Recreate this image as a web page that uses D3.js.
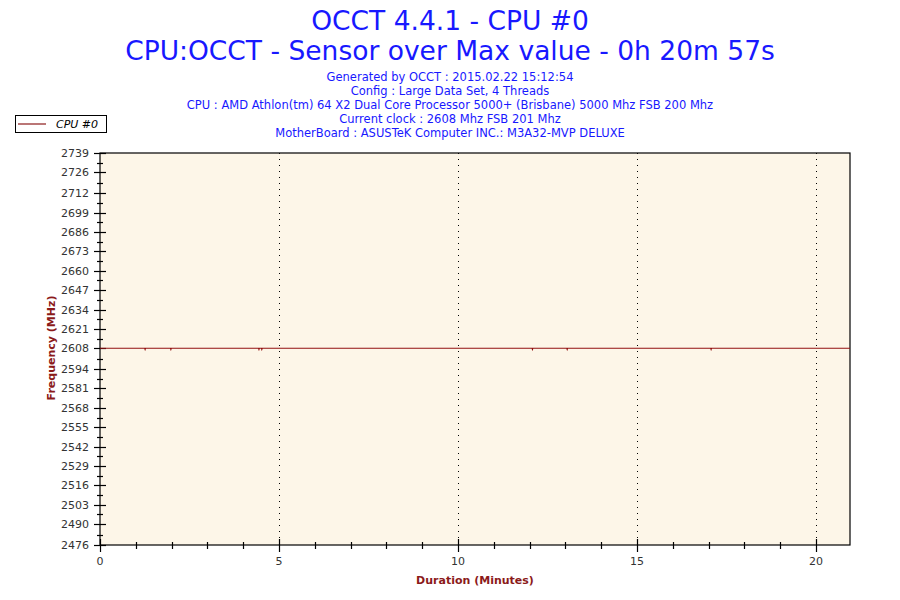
<!DOCTYPE html>
<html><head><meta charset="utf-8">
<script src="https://cdn.jsdelivr.net/npm/d3@7"></script>
<style>body{margin:0;background:#fff}svg{display:block}</style>
</head><body><svg id="c" width="900" height="600"></svg>
<script>
const titleLines = ["OCCT 4.4.1 - CPU #0", "CPU:OCCT - Sensor over Max value - 0h 20m 57s"];
const infoLines = [
  "Generated by OCCT : 2015.02.22 15:12:54",
  "Config : Large Data Set, 4 Threads",
  "CPU : AMD Athlon(tm) 64 X2 Dual Core Processor 5000+ (Brisbane) 5000 Mhz FSB 200 Mhz",
  "Current clock : 2608 Mhz FSB 201 Mhz",
  "MotherBoard : ASUSTeK Computer INC.: M3A32-MVP DELUXE"
];
const seriesName = "CPU #0";
const yTickLabels = [2476,2490,2503,2516,2529,2542,2555,2568,2581,2594,2608,2621,2634,2647,2660,2673,2686,2699,2712,2726,2739];
const xTickLabels = [0,5,10,15,20];
const durationMin = 20.95;
// time (minutes) and frequency (MHz) samples
const times  = [0, 1.25, 1.26, 1.27, 1.97, 1.98, 1.99, 4.43, 4.44, 4.45, 4.51, 4.52, 4.53, 12.07, 12.08, 12.09, 13.04, 13.05, 13.06, 17.06, 17.07, 17.08, 20.95];
const freqs  = [2608, 2608, 2607.3, 2608, 2608, 2607.3, 2608, 2608, 2607.3, 2608, 2608, 2607.3, 2608, 2608, 2607.3, 2608, 2608, 2607.3, 2608, 2608, 2607.3, 2608, 2608];

const svg = d3.select("#c");
const L = 100, R = 850, T = 153, B = 545;
const x = d3.scaleLinear().domain([0, durationMin]).range([L, R]);
const y = d3.scaleLinear().domain([yTickLabels[0], yTickLabels[yTickLabels.length-1]]).range([B, T]);
const font = "Tahoma, 'DejaVu Sans', Verdana, sans-serif";

// titles
svg.selectAll("text.title").data(titleLines).enter().append("text")
  .attr("x", 450).attr("y", (d,i) => 30 + i*30)
  .attr("text-anchor","middle").attr("font-family", font).attr("font-size", 26.5)
  .attr("fill", "#1818ff").text(d => d);
svg.selectAll("text.info").data(infoLines).enter().append("text")
  .attr("x", 450).attr("y", (d,i) => 81 + i*14)
  .attr("text-anchor","middle").attr("font-family", font).attr("font-size", 11.5)
  .attr("fill", "#1818ff").text(d => d);

// plot background
svg.append("rect").attr("x", L).attr("y", T).attr("width", R-L).attr("height", B-T)
  .attr("fill", "#fdf6e8").attr("stroke", "#000").attr("stroke-width", 1.2);

// dotted verticals
svg.selectAll("line.grid").data(xTickLabels.filter(d => d > 0)).enter().append("line")
  .attr("x1", d => Math.round(x(d))+0.5).attr("x2", d => Math.round(x(d))+0.5)
  .attr("y1", T).attr("y2", B)
  .attr("stroke", "#000").attr("stroke-dasharray", "1,5");

// y axis
const ga = svg.append("g");
const yMinor = d3.range(yTickLabels.length-1).map(i => (yTickLabels[i]+yTickLabels[i+1])/2);
ga.selectAll("line.ymaj").data(yTickLabels).enter().append("line")
  .attr("x1", 94).attr("x2", 106).attr("y1", d => Math.round(y(d))+0.5).attr("y2", d => Math.round(y(d))+0.5)
  .attr("stroke","#000").attr("stroke-width",1.2);
ga.selectAll("line.ymin").data(yMinor).enter().append("line")
  .attr("x1", 97).attr("x2", 103).attr("y1", d => Math.round(y(d))+0.5).attr("y2", d => Math.round(y(d))+0.5)
  .attr("stroke","#000").attr("stroke-width",1.2);
ga.selectAll("text.yl").data(yTickLabels).enter().append("text")
  .attr("x", 89).attr("y", d => y(d)+4).attr("text-anchor","end")
  .attr("font-family", font).attr("font-size", 11).attr("fill","#333").text(d => d);

// x axis
const xMinor = d3.range(1, 21).filter(d => d % 5 !== 0);
ga.selectAll("line.xmaj").data(xTickLabels).enter().append("line")
  .attr("x1", d => Math.round(x(d))+0.5).attr("x2", d => Math.round(x(d))+0.5).attr("y1", 539).attr("y2", 552)
  .attr("stroke","#000").attr("stroke-width",1.2);
ga.selectAll("line.xmin").data(xMinor).enter().append("line")
  .attr("x1", d => Math.round(x(d))+0.5).attr("x2", d => Math.round(x(d))+0.5).attr("y1", 542).attr("y2", 549)
  .attr("stroke","#000").attr("stroke-width",1.2);
ga.selectAll("text.xl").data(xTickLabels).enter().append("text")
  .attr("x", d => x(d)).attr("y", 565).attr("text-anchor","middle")
  .attr("font-family", font).attr("font-size", 11).attr("fill","#333").text(d => d);

// axis titles
svg.append("text").attr("transform","translate(55,348) rotate(-90)").attr("text-anchor","middle")
  .attr("font-family", font).attr("font-size", 11).attr("font-weight","bold").attr("fill","#8b1a1a")
  .text("Frequency (MHz)");
svg.append("text").attr("x", 475).attr("y", 584).attr("text-anchor","middle")
  .attr("font-family", font).attr("font-size", 11).attr("font-weight","bold").attr("fill","#8b1a1a")
  .text("Duration (Minutes)");

// series line
const pts = times.map((t,i) => [t, freqs[i]]);
svg.append("path").datum(pts)
  .attr("d", d3.line().x(d => x(d[0])).y(d => y(d[1])))
  .attr("fill","none").attr("stroke","#921010").attr("stroke-width",1.2);

// legend
svg.append("rect").attr("x", 15.5).attr("y", 115.5).attr("width", 91).attr("height", 17)
  .attr("fill","#fff").attr("stroke","#000");
svg.append("line").attr("x1", 18).attr("x2", 46).attr("y1", 124).attr("y2", 124)
  .attr("stroke","#8b1a1a").attr("stroke-width",1.2);
svg.append("text").attr("x", 56).attr("y", 128).attr("font-family", font).attr("font-size", 11)
  .attr("font-style","italic").attr("fill","#000").text(seriesName);
</script></body></html>
